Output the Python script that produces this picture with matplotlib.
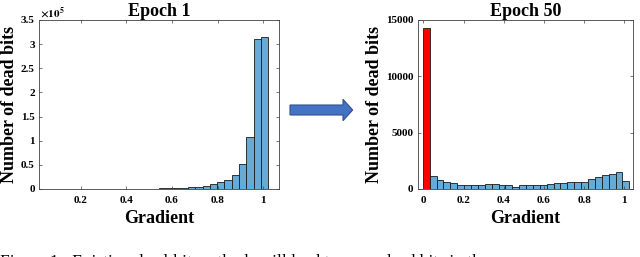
import numpy as np
import matplotlib.pyplot as plt
from matplotlib.patches import Polygon

plt.rcParams['font.family'] = 'Liberation Serif'
plt.rcParams['font.weight'] = 'bold'
plt.rcParams['mathtext.fontset'] = 'stix'

# histogram bins (gradient range, 30 bins each)
epoch1_range = (0.065, 1.022)
epoch50_range = (-0.003, 1.025)
n_bins = 30

epoch1_counts = [50, 60, 80, 100, 120, 150, 200, 250, 300, 400,
                 500, 600, 700, 800, 1000, 1200, 1500, 2000, 2800, 4000,
                 5000, 7000, 10000, 14000, 19000, 30000, 51000, 107000, 310000, 315000]
epoch50_counts = [14320, 1180, 765, 590, 500, 350, 350, 350, 350, 440,
                  410, 350, 350, 200, 350, 350, 330, 330, 440, 530,
                  560, 620, 620, 620, 910, 1030, 1200, 1320, 1530, 680]

left_yticks = [0, 50000, 100000, 150000, 200000, 250000, 300000, 350000]
left_ylabels = ['0', '0.5', '1', '1.5', '2', '2.5', '3', '3.5']
left_xticks = [0.2, 0.4, 0.6, 0.8, 1]
right_yticks = [0, 5000, 10000, 15000]
right_xticks = [0, 0.2, 0.4, 0.6, 0.8, 1]

bar_blue = '#66aad7'
edge = '#1a1a1a'


def draw_hist(ax, rng, counts, first_color):
    edges = np.linspace(rng[0], rng[1], n_bins + 1)
    colors = [first_color] + [bar_blue] * (n_bins - 1)
    ax.bar(edges[:-1], counts, width=np.diff(edges), align='edge',
           color=colors, edgecolor=edge, linewidth=0.6)


def style(ax):
    for s in ax.spines.values():
        s.set_color('#404040')
        s.set_linewidth(0.6)
    ax.tick_params(direction='in', top=True, right=True, length=2.5,
                   width=0.5, labelsize=8, color='#404040')
    ax.tick_params(axis='x', pad=5)
    ax.tick_params(axis='y', pad=3)
    for lab in ax.get_xticklabels() + ax.get_yticklabels():
        lab.set_fontweight('bold')


fig = plt.figure(figsize=(6.4, 2.57), dpi=100)

ax1 = fig.add_axes([0.061, 0.2646, 0.375, 0.6576])
draw_hist(ax1, epoch1_range, epoch1_counts, bar_blue)
ax1.set_xlim(0.017, 1.07)
ax1.set_ylim(0, 350000)
ax1.set_yticks(left_yticks)
ax1.set_yticklabels(left_ylabels)
ax1.set_xticks(left_xticks)
ax1.set_xticklabels(['0.2', '0.4', '0.6', '0.8', '1'])
ax1.set_title('Epoch 1', fontsize=13, fontweight='bold', pad=3)
ax1.set_xlabel('Gradient', fontsize=13, fontweight='bold', labelpad=4)
ax1.set_ylabel('Number of dead bits', fontsize=13, fontweight='bold', labelpad=2)
style(ax1)
fig.text(40 / 640, 1 - 17 / 257, r'$\mathbf{\times 10^{5}}$', fontsize=8,
         ha='left', va='baseline')

ax2 = fig.add_axes([0.6527, 0.2646, 0.336, 0.6576])
draw_hist(ax2, epoch50_range, epoch50_counts, '#ff0000')
ax2.set_xlim(-0.028, 1.042)
ax2.set_ylim(0, 15000)
ax2.set_yticks(right_yticks)
ax2.set_yticklabels([str(v) for v in right_yticks])
ax2.set_xticks(right_xticks)
ax2.set_xticklabels(['0', '0.2', '0.4', '0.6', '0.8', '1'])
ax2.set_title('Epoch 50', fontsize=13, fontweight='bold', pad=3)
ax2.set_xlabel('Gradient', fontsize=13, fontweight='bold', labelpad=4)
ax2.set_ylabel('Number of dead bits', fontsize=13, fontweight='bold', labelpad=2)
style(ax2)

# arrow between the panels (pixel outline -> figure fraction)
arrow_px = [(290, 105), (343, 105), (343, 99.3), (352.7, 110),
            (343, 120.7), (343, 115), (290, 115)]
arrow = Polygon([(x / 640, 1 - y / 257) for x, y in arrow_px], closed=True,
                transform=fig.transFigure, facecolor='#4472c4',
                edgecolor='#2f528f', linewidth=0.8)
fig.add_artist(arrow)

# caption, cut off by the bottom edge as in the source page
fig.text(0.0, 1 - 266 / 257, 'Figure 1:  Existing dead-bit methods will lead to more dead bits in the',
         fontsize=12.5, fontweight='normal', ha='left', va='baseline')

fig.savefig('out.png', dpi=100)
